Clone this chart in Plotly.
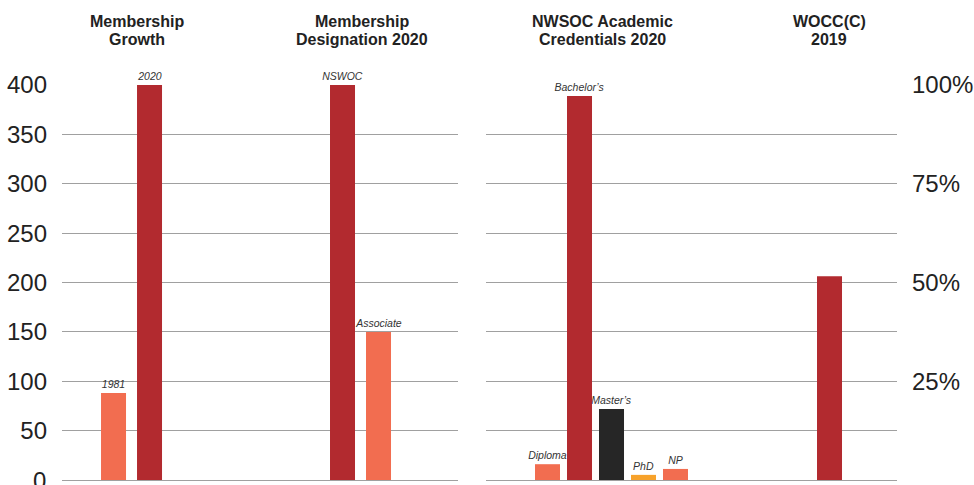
import plotly.graph_objects as go

# ---- data ----
growth_labels = ["1981", "2020"]
growth_values = [88, 400]

designation_labels = ["NSWOC", "Associate"]
designation_values = [400, 150]

credential_labels = ["Diploma", "Bachelor’s", "Master’s", "PhD", "NP"]
credential_values = [4.0, 97.2, 18.0, 1.3, 2.8]   # percent

wocc_labels = ["WOCC(C) 2019"]
wocc_values = [51.6]                                  # percent

panel_titles = [["Membership", "Growth"], ["Membership", "Designation 2020"],
                ["NWSOC Academic", "Credentials 2020"], ["WOCC(C)", "2019"]]

count_ticks = [0, 50, 100, 150, 200, 250, 300, 350, 400]
pct_ticks = [0, 12.5, 25, 37.5, 50, 62.5, 75, 87.5, 100]
pct_ticktext = ["", "", "25%", "", "50%", "", "75%", "", "100%"]

# ---- styles ----
RED = "#b22a2f"
SALMON = "#f26d50"
BLACK = "#262626"
ORANGE = "#f7a22b"
FONT = "Liberation Sans, Arial, sans-serif"
W, H = 974, 485
GRID = "#a0a0a0"
PLOT_TOP, PLOT_BOT = 85, 482           # 400 line at 85, zero line at 480
PLOT_H = PLOT_BOT - PLOT_TOP
PAD = 400 * 2 / 395                    # small padding below zero (2 px)
TICK_FONT = dict(family=FONT, size=24, color="#222222")

growth_colors = [SALMON, RED]
designation_colors = [RED, SALMON]
credential_colors = [SALMON, RED, BLACK, ORANGE, SALMON]
wocc_colors = [RED]

fig = go.Figure()

label_font = dict(family=FONT, size=10.5, color="#333333", style="italic")


def add_bars(labels, values, colors, xa, ya, width, show_text=True):
    fig.add_trace(go.Bar(
        x=labels, y=values, marker=dict(color=colors, line=dict(width=0)),
        width=width, xaxis=xa, yaxis=ya,
        text=labels if show_text else None,
        textposition="outside", textfont=label_font,
        constraintext="none", cliponaxis=False, showlegend=False,
        hoverinfo="x+y",
    ))


add_bars(growth_labels, growth_values, growth_colors, "x", "y", 25 / 36)
add_bars(designation_labels, designation_values, designation_colors, "x2", "y", 25 / 36)
add_bars(credential_labels, credential_values, credential_colors, "x3", "y2", 25 / 32)
add_bars(wocc_labels, wocc_values, wocc_colors, "x4", "y2", 25 / 32, show_text=False)


def px(x):            # page pixel -> paper fraction (horizontal)
    return x / W


def py(y):            # page pixel -> paper fraction (vertical)
    return (PLOT_BOT - y) / PLOT_H


xcommon = dict(showticklabels=False, showgrid=False, zeroline=False,
               showline=False, ticks="", type="category", fixedrange=True)

fig.update_layout(
    width=W, height=H,
    margin=dict(l=0, r=0, t=PLOT_TOP, b=H - PLOT_BOT),
    paper_bgcolor="white", plot_bgcolor="white",
    font=dict(family=FONT, color="#333333"),
    xaxis=dict(domain=[px(62), px(260)], range=[-1.431, 4.069], anchor="y", **xcommon),
    xaxis2=dict(domain=[px(260), px(458)], range=[-2.292, 3.208], anchor="y", **xcommon),
    xaxis3=dict(domain=[px(486), px(691)], range=[-1.922, 4.484], anchor="y2", **xcommon),
    xaxis4=dict(domain=[px(691), px(897)], range=[-4.328, 2.109], anchor="y2", **xcommon),
    yaxis=dict(range=[-PAD, 400], tickvals=count_ticks, anchor="x", side="left",
               showgrid=True, gridcolor=GRID, gridwidth=1, zeroline=False,
               showline=False, ticks="", ticklabelstandoff=14,
               tickfont=TICK_FONT, fixedrange=True),
    yaxis2=dict(range=[-PAD / 4, 100], tickvals=pct_ticks, ticktext=pct_ticktext,
                anchor="x4", side="right",
                showgrid=True, gridcolor=GRID, gridwidth=1, zeroline=False,
                showline=False, ticks="", ticklabelstandoff=14,
                tickfont=TICK_FONT, fixedrange=True),
)

# the bottom "0" tick label (plotly drops it because it crosses the page edge)
fig.add_annotation(text=str(count_ticks[0]), xref="paper", yref="y",
                   x=px(48), y=count_ticks[0], xanchor="right", yanchor="middle",
                   showarrow=False, font=TICK_FONT)

title_x = [137, 362, 602, 829]
line_y = [21, 39.5]
for lines, xc in zip(panel_titles, title_x):
    for ln, yc in zip(lines, line_y):
        fig.add_annotation(text="<b>" + ln + "</b>", xref="paper", yref="paper",
                           x=px(xc), y=py(yc), xanchor="center", yanchor="middle",
                           showarrow=False, align="center",
                           font=dict(family=FONT, size=16, color="#222222"))

fig.write_html(
    "out.html",
    config={"displayModeBar": False},
    post_script="document.body.style.margin='0px';"
                "document.documentElement.style.overflow='hidden';",
)
